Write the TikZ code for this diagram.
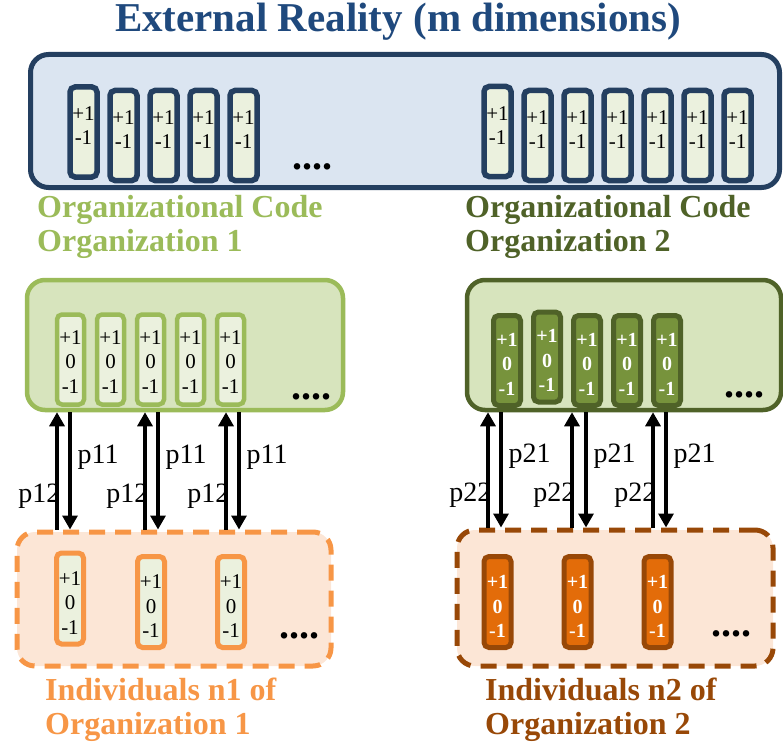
\documentclass[tikz,border=0pt]{standalone}
\usepackage{fontspec}
\setmainfont{Liberation Serif}
\usepackage{xcolor}
\definecolor{navy}{RGB}{31,73,125}
\definecolor{navyline}{RGB}{36,63,96}
\definecolor{skyfill}{RGB}{219,229,241}
\definecolor{palecell}{RGB}{235,241,222}
\definecolor{olive}{RGB}{155,187,89}
\definecolor{olivefill}{RGB}{215,228,189}
\definecolor{darkolive}{RGB}{79,98,40}
\definecolor{midolive}{RGB}{119,147,60}
\definecolor{peach}{RGB}{247,150,70}
\definecolor{peachfill}{RGB}{252,230,214}
\definecolor{rust}{RGB}{152,72,7}
\definecolor{rustcell}{RGB}{227,108,9}
\usepackage{tikz}
\usetikzlibrary{positioning}
\usetikzlibrary{arrows.meta}

\newcommand{\twoval}{+1\\-1}
\newcommand{\threeval}{+1\\0\\-1}

\begin{document}
\begin{tikzpicture}[x=1pt,y=-1pt,
  bigbox/.style={rectangle,rounded corners=18pt,line width=4.5pt},
  valbox/.style={rectangle,rounded corners=5pt,line width=5pt,inner sep=0pt,align=center,minimum width=27pt,minimum height=90pt,text depth=0pt,font=\fontsize{21}{24.5}\selectfont},
  extcell/.style={valbox,draw=navyline,fill=palecell,line width=5.5pt,text height=26pt},
  codeA/.style={valbox,draw=olive,fill=palecell,line width=4.5pt,text height=67.5pt},
  codeB/.style={valbox,draw=darkolive,fill=midolive,text=white,text height=69.5pt,font=\fontsize{20}{24.5}\selectfont\bfseries},
  indA/.style={valbox,draw=peach,fill=palecell,minimum height=91pt,text height=71.5pt},
  indB/.style={valbox,draw=rust,fill=rustcell,text=white,minimum height=91pt,text height=71.5pt,font=\fontsize{20}{24.5}\selectfont\bfseries},
  dots/.style={anchor=base,inner sep=0pt,font=\fontsize{40}{40}\selectfont\bfseries},
  heading/.style={anchor=north west,align=left,inner sep=0pt,font=\fontsize{32}{34}\selectfont\bfseries},
  pArrow/.style={line width=3.2pt,-{Triangle[length=14pt,width=15pt]}},
  plabel/.style={inner sep=0pt,font=\fontsize{28}{28}\selectfont}]
\useasboundingbox (0,0) rectangle (783,746);

% title and the big boxes
\node[font=\fontsize{41}{41}\selectfont\bfseries,text=navy] (title) at (398,22) {External Reality (m dimensions)};
\node[bigbox,draw=navyline,fill=skyfill,line width=5pt,minimum width=749pt,minimum height=133pt] (ext) at (405,121) {};
\node[bigbox,draw=olive,fill=olivefill,minimum width=316pt,minimum height=130pt] (org1) at (185,345) {};
\node[bigbox,draw=darkolive,fill=olivefill,minimum width=314pt,minimum height=130pt] (org2) at (624,345) {};
\node[bigbox,draw=peach,fill=peachfill,line width=5pt,dash pattern=on 16pt off 10pt,minimum width=314pt,minimum height=134pt] (ind1) at (174,599) {};
\node[bigbox,draw=rust,fill=peachfill,line width=5pt,dash pattern=on 16pt off 10pt,minimum width=316pt,minimum height=136pt] (ind2) at (615,598) {};

% external reality, two groups of dimensions
\node[extcell] (e1) at (83.5,132) {\twoval};
\node[extcell,right=7.5pt of e1,yshift=-3.5pt] (e2) {\twoval};
\node[extcell,right=7.5pt of e2] (e3) {\twoval};
\node[extcell,right=7.5pt of e3] (e4) {\twoval};
\node[extcell,right=7.5pt of e4] (e5) {\twoval};
\node[dots] (edots) at (312,169) {....};
\node[extcell] (r1) at (497.5,131.5) {\twoval};
\node[extcell,right=7.5pt of r1,yshift=-4pt] (r2) {\twoval};
\node[extcell,right=7.5pt of r2] (r3) {\twoval};
\node[extcell,right=7.5pt of r3] (r4) {\twoval};
\node[extcell,right=7.5pt of r4] (r5) {\twoval};
\node[extcell,right=7.5pt of r5] (r6) {\twoval};
\node[extcell,right=7.5pt of r6] (r7) {\twoval};

% organizational codes
\node[heading,text=olive] (code1) at (37,195) {Organizational Code\\Organization 1};
\node[heading,text=darkolive] (code2) at (465,195) {Organizational Code\\Organization 2};
\node[codeA] (c1) at (70.5,359.5) {\threeval};
\node[codeA,right=8.5pt of c1] (c2) {\threeval};
\node[codeA,right=8.5pt of c2] (c3) {\threeval};
\node[codeA,right=8.5pt of c3] (c4) {\threeval};
\node[codeA,right=8.5pt of c4] (c5) {\threeval};
\node[dots] (cdots) at (311,399) {....};
\node[codeB] (d1) at (507,360.5) {\threeval};
\node[codeB,right=8pt of d1,yshift=3.5pt] (d2) {\threeval};
\node[codeB,right=8pt of d2,yshift=-3.5pt] (d3) {\threeval};
\node[codeB,right=8pt of d3] (d4) {\threeval};
\node[codeB,right=8pt of d4] (d5) {\threeval};
\node[dots] (ddots) at (744,397) {....};

% individuals
\node[indA] (i1) at (70,598.5) {\threeval};
\node[indA,right=49pt of i1,yshift=-3.5pt] (i2) {\threeval};
\node[indA,right=48pt of i2] (i3) {\threeval};
\node[dots] (idots) at (299,638) {....};
\node[indB] (j1) at (497.5,602) {\threeval};
\node[indB,right=48pt of j1] (j2) {\threeval};
\node[indB,right=48pt of j2] (j3) {\threeval};
\node[dots] (jdots) at (731,636) {....};
\node[heading,text=peach] (people1) at (45,678) {Individuals n1 of\\Organization 1};
\node[heading,text=rust] (people2) at (485,678) {Individuals n2 of\\Organization 2};

% learning arrows
\coordinate (u11) at (57,0);  \coordinate (w11) at (70,0);
\coordinate (u12) at (145,0); \coordinate (w12) at (158,0);
\coordinate (u13) at (226,0); \coordinate (w13) at (239,0);
\coordinate (u21) at (488,0); \coordinate (w21) at (501,0);
\coordinate (u22) at (572,0); \coordinate (w22) at (586,0);
\coordinate (u23) at (653,0); \coordinate (w23) at (666,0);
\draw[pArrow] (ind1.north -| u11) -- (org1.south -| u11) node[plabel,left,pos=.28,xshift=5pt] {p12};
\draw[pArrow] (org1.south -| w11) -- (ind1.north -| w11) node[plabel,right,pos=.38,xshift=6pt] {p11};
\draw[pArrow] (ind1.north -| u12) -- (org1.south -| u12) node[plabel,left,pos=.28,xshift=5pt] {p12};
\draw[pArrow] (org1.south -| w12) -- (ind1.north -| w12) node[plabel,right,pos=.38,xshift=6pt] {p11};
\draw[pArrow] (ind1.north -| u13) -- (org1.south -| u13) node[plabel,left,pos=.28,xshift=5pt] {p12};
\draw[pArrow] (org1.south -| w13) -- (ind1.north -| w13) node[plabel,right,pos=.38,xshift=6pt] {p11};
\draw[pArrow] (ind2.north -| u21) -- (org2.south -| u21) node[plabel,left,pos=.28,xshift=5pt] {p22};
\draw[pArrow] (org2.south -| w21) -- (ind2.north -| w21) node[plabel,right,pos=.38,xshift=6pt] {p21};
\draw[pArrow] (ind2.north -| u22) -- (org2.south -| u22) node[plabel,left,pos=.28,xshift=5pt] {p22};
\draw[pArrow] (org2.south -| w22) -- (ind2.north -| w22) node[plabel,right,pos=.38,xshift=6pt] {p21};
\draw[pArrow] (ind2.north -| u23) -- (org2.south -| u23) node[plabel,left,pos=.28,xshift=5pt] {p22};
\draw[pArrow] (org2.south -| w23) -- (ind2.north -| w23) node[plabel,right,pos=.38,xshift=6pt] {p21};
\end{tikzpicture}
\end{document}
